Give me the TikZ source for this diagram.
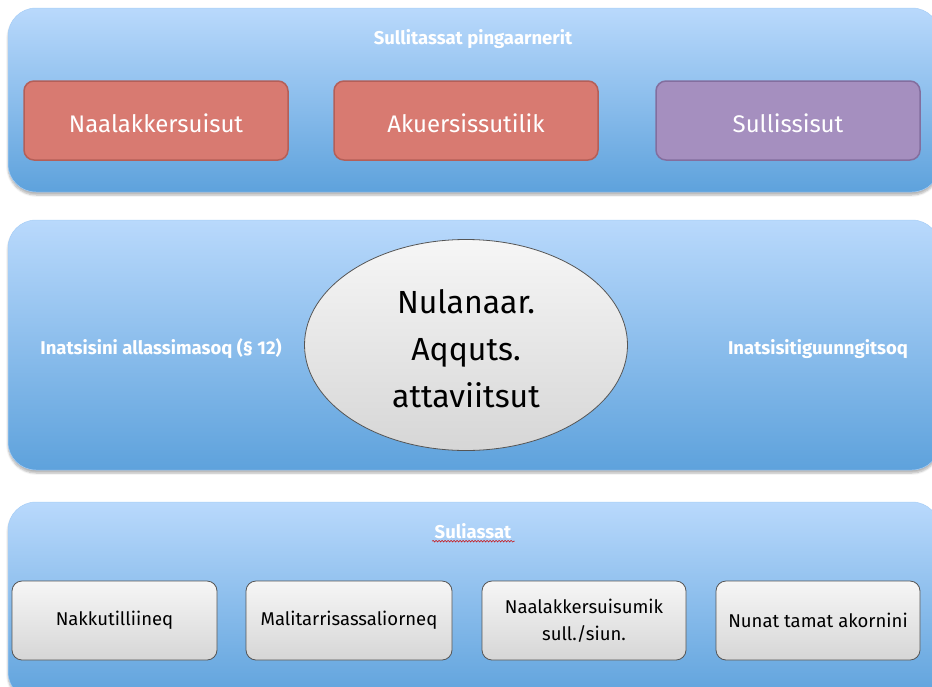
\documentclass[tikz,border=0pt]{standalone}
\usepackage{fontspec}
\setmainfont{Fira Sans}
\usetikzlibrary{shapes.geometric,shadows.blur,decorations.pathmorphing}
\definecolor{paneltop}{HTML}{B9D9FC}
\definecolor{panelbot}{HTML}{5EA2DC}
\definecolor{redfill}{HTML}{D87A71}
\definecolor{redline}{HTML}{B45F58}
\definecolor{purfill}{HTML}{A58FBF}
\definecolor{purline}{HTML}{836E9E}
\definecolor{greytop}{HTML}{F6F6F6}
\definecolor{greybot}{HTML}{D6D6D6}
\definecolor{greyline}{HTML}{555555}
\tikzset{
  x=1pt, y=-1pt,
  panel/.style={rounded corners=28pt, top color=paneltop, bottom color=panelbot, draw=paneltop!80!panelbot, line width=0.5pt, blur shadow={shadow blur steps=6, shadow xshift=0pt, shadow yshift=-3pt, shadow opacity=30}},
  topbox/.style={rounded corners=10pt, line width=1.5pt, text=white, font=\fontsize{24}{28}\selectfont, inner sep=0pt, minimum width=264pt, minimum height=79pt, text height=24pt, text depth=0pt},
  redbox/.style={topbox, fill=redfill, draw=redline},
  purbox/.style={topbox, fill=purfill, draw=purline},
  greybox/.style={rounded corners=10pt, top color=greytop, bottom color=greybot, draw=greyline, line width=0.8pt, text=black, font=\fontsize{18.5}{27}\selectfont, align=center, inner sep=0pt, minimum height=79pt},
  paneltitle/.style={text=white, font=\bfseries\fontsize{18.5}{20}\selectfont},
}
\begin{document}
\begin{tikzpicture}
\useasboundingbox (0,0) rectangle (932,686);
% panels
\path[panel] (8,8) rectangle (940,192);
\path[panel] (8,220) rectangle (940,470);
\path[panel] (8,502) rectangle (940,700);
% top panel
\node[paneltitle] (t1) at (473,39) {Sullitassat pingaarnerit};
\node[redbox] (a) at (156,120.5) {Naalakkersuisut};
\node[redbox] (b) at (466,120.5) {Akuersissutilik};
\node[purbox] (c) at (788,120.5) {Sullissisut};
% middle panel
\node[paneltitle] (l) at (161,349) {Inatsisini allassimasoq (§ 12)};
\node[paneltitle] (r) at (818,349) {Inatsisitiguunngitsoq};
\node[ellipse, minimum width=323pt, minimum height=211pt, top color=greytop, bottom color=greybot, draw=greyline, line width=0.8pt, align=center, font=\fontsize{32}{47}\selectfont, inner sep=0pt, label={[align=center, font=\fontsize{32}{47}\selectfont, yshift=-4pt]center:Nulanaar.\\Aqquts.\\attaviitsut}] (e) at (466,345) {};
% bottom panel
\node[paneltitle] (t3) at (473,531) {Suliassat};
\draw[red!80!black, line width=0.5pt, decorate, decoration={snake, amplitude=0.8pt, segment length=3pt}] (t3.south west) ++(1,-1) coordinate (sw) -- (t3.south east |- sw);
\node[greybox, minimum width=205pt] (g1) at (114.5,620.5) {Nakkutilliineq};
\node[greybox, minimum width=206pt] (g2) at (349,620.5) {Malitarrisassaliorneq};
\node[greybox, minimum width=204pt] (g3) at (584,620.5) {Naalakkersuisumik\\sull./siun.};
\node[greybox, minimum width=204pt] (g4) at (818,620.5) {Nunat tamat akornini};
\end{tikzpicture}
\end{document}
